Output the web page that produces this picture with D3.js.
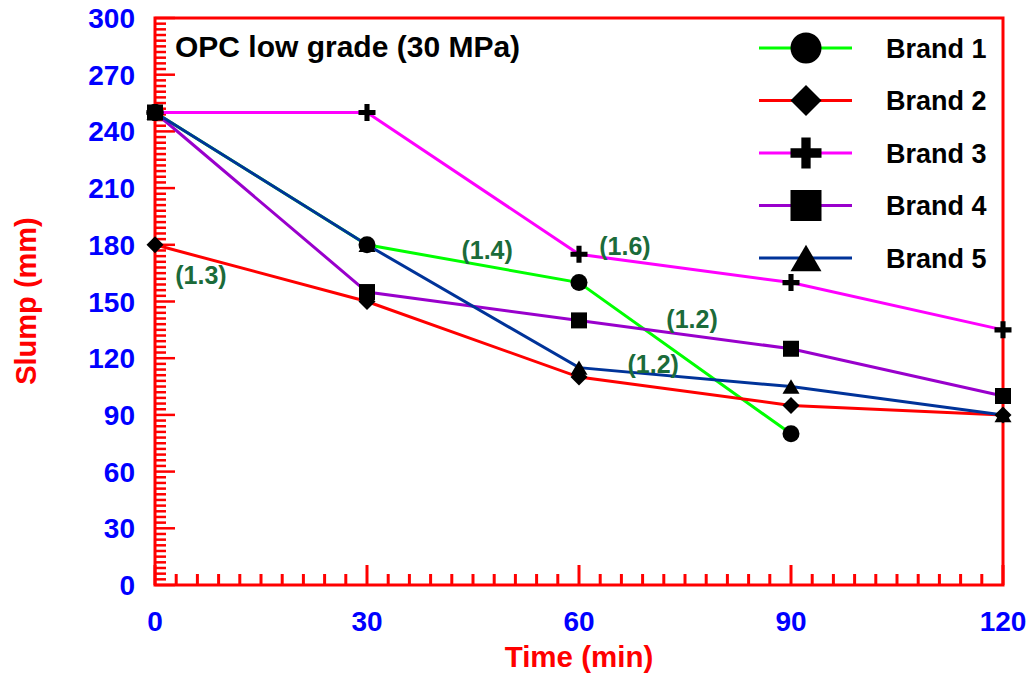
<!DOCTYPE html>
<html lang="en">
<head>
    <meta charset="UTF-8">
    <style>
        body { margin: 0; background: #fff; }
        text { font-family: "Liberation Sans", Arial, sans-serif; font-weight: bold; }
    </style>
    <script src="https://d3js.org/d3.v7.min.js"></script>
    <title>OPC low grade slump</title>
</head>
<body>
    <svg width="1032" height="673"></svg>

    <script>

        // data
        var times = [0, 30, 60, 90, 120];
        var brands = ["Brand 1", "Brand 2", "Brand 3", "Brand 4", "Brand 5"];
        var brand1 = [250, 180, 160, 80, null];
        var brand2 = [180, 150, 110, 95, 90];
        var brand3 = [250, 250, 175, 160, 135];
        var brand4 = [250, 155, 140, 125, 100];
        var brand5 = [250, 180, 115, 105, 90];
        var yTicks = [0, 30, 60, 90, 120, 150, 180, 210, 240, 270, 300];
        var xTicks = [0, 30, 60, 90, 120];

        // ratio annotations: [time, slump, label]
        var notes = [
            [6.5, 164, "(1.3)"],
            [47, 177, "(1.4)"],
            [66.5, 179.5, "(1.6)"],
            [76, 141, "(1.2)"],
            [70.5, 117, "(1.2)"]
        ];

        var series = [brand1, brand2, brand3, brand4, brand5];
        var colors = ["#00ff00", "#ff0000", "#ff00ff", "#9900cc", "#003399"];
        var shapes = ["circle", "diamond", "plus", "square", "triangle"];

        var svg = d3.select("svg");
        var pLeft = 155, pRight = 1003, pTop = 18, pBottom = 585;

        var x = d3.scaleLinear().domain([0, 120]).range([pLeft, pRight]);
        var y = d3.scaleLinear().domain([0, 300]).range([pBottom, pTop]);

        // marker path centred on 0,0; s = half size
        function marker(shape, s) {
            if (shape == "circle") {
                return "M" + s + ",0A" + s + "," + s + " 0 1,1 " + (-s) + ",0A" + s + "," + s + " 0 1,1 " + s + ",0Z";
            }
            if (shape == "diamond") {
                return "M0," + (-s) + "L" + s + ",0L0," + s + "L" + (-s) + ",0Z";
            }
            if (shape == "square") {
                return "M" + (-s) + "," + (-s) + "H" + s + "V" + s + "H" + (-s) + "Z";
            }
            if (shape == "triangle") {
                var h = s * 0.85;
                return "M0," + (-h) + "L" + s + "," + h + "L" + (-s) + "," + h + "Z";
            }
            // plus
            var t = s * 0.3;
            return "M" + (-t) + "," + (-s) + "H" + t + "V" + (-t) + "H" + s + "V" + t + "H" + t +
                   "V" + s + "H" + (-t) + "V" + t + "H" + (-s) + "V" + (-t) + "H" + (-t) + "Z";
        }

        // minor and major ticks, drawn inside the frame
        var minorX = d3.range(0, 121, 3);
        var minorY = d3.range(0, 301, 3);

        svg.append("g").selectAll("line")
            .data(minorX)
            .enter().append("line")
            .attr("x1", function(d) { return x(d); })
            .attr("x2", function(d) { return x(d); })
            .attr("y1", pBottom)
            .attr("y2", function(d) { return pBottom - (d % 30 == 0 ? 20 : 11); })
            .attr("stroke", "#ff0000")
            .attr("stroke-width", 3);

        svg.append("g").selectAll("line")
            .data(minorY)
            .enter().append("line")
            .attr("x1", pLeft)
            .attr("x2", function(d) { return pLeft + (d % 30 == 0 ? 20 : 11); })
            .attr("y1", function(d) { return y(d); })
            .attr("y2", function(d) { return y(d); })
            .attr("stroke", "#ff0000")
            .attr("stroke-width", 2.5);

        // frame
        svg.append("rect")
            .attr("x", pLeft).attr("y", pTop)
            .attr("width", pRight - pLeft).attr("height", pBottom - pTop)
            .attr("fill", "none")
            .attr("stroke", "#ff0000")
            .attr("stroke-width", 3);

        // tick labels
        svg.append("g").selectAll("text")
            .data(yTicks)
            .enter().append("text")
            .attr("x", 135)
            .attr("y", function(d) { return y(d); })
            .attr("dy", "0.36em")
            .attr("text-anchor", "end")
            .attr("fill", "#0000ff")
            .style("font-size", "28px")
            .text(function(d) { return d; });

        svg.append("g").selectAll("text")
            .data(xTicks)
            .enter().append("text")
            .attr("x", function(d) { return x(d); })
            .attr("y", 631)
            .attr("text-anchor", "middle")
            .attr("fill", "#0000ff")
            .style("font-size", "28px")
            .text(function(d) { return d; });

        // axis titles
        svg.append("text")
            .attr("x", 579).attr("y", 667)
            .attr("text-anchor", "middle")
            .attr("fill", "#ff0000")
            .style("font-size", "29.5px")
            .text("Time (min)");

        svg.append("text")
            .attr("transform", "translate(36,301) rotate(-90)")
            .attr("text-anchor", "middle")
            .attr("fill", "#ff0000")
            .style("font-size", "29px")
            .text("Slump (mm)");

        svg.append("text")
            .attr("x", 175).attr("y", 57)
            .attr("fill", "#000")
            .style("font-size", "30px")
            .text("OPC low grade (30 MPa)");

        // lines
        var line = d3.line()
            .defined(function(d) { return d != null; })
            .x(function(d, i) { return x(times[i]); })
            .y(function(d) { return y(d); });

        series.forEach(function(s, k) {
            svg.append("path")
                .attr("d", line(s))
                .attr("fill", "none")
                .attr("stroke", colors[k])
                .attr("stroke-width", 3);
        });

        // markers, square on top like the original
        [0, 1, 2, 4, 3].forEach(function(k) {
            svg.append("g").selectAll("path")
                .data(series[k].map(function(v, i) { return [times[i], v]; })
                              .filter(function(d) { return d[1] != null; }))
                .enter().append("path")
                .attr("transform", function(d) { return "translate(" + x(d[0]) + "," + y(d[1]) + ")"; })
                .attr("d", marker(shapes[k], shapes[k] == "square" ? 8 : 8.5))
                .attr("fill", "#000");
        });

        // ratio notes
        svg.append("g").selectAll("text")
            .data(notes)
            .enter().append("text")
            .attr("x", function(d) { return x(d[0]); })
            .attr("y", function(d) { return y(d[1]); })
            .attr("dy", "0.36em")
            .attr("text-anchor", "middle")
            .attr("fill", "#1b6b3a")
            .style("font-size", "25px")
            .text(function(d) { return d[2]; });

        // legend
        var legend = svg.append("g").selectAll("g")
            .data(brands)
            .enter().append("g")
            .attr("transform", function(d, i) { return "translate(0," + (48 + i * 52.5) + ")"; });

        legend.append("line")
            .attr("x1", 759).attr("x2", 852)
            .attr("stroke", function(d, i) { return colors[i]; })
            .attr("stroke-width", 3);

        legend.append("path")
            .attr("transform", "translate(806,0)")
            .attr("d", function(d, i) { return marker(shapes[i], 15.5); })
            .attr("fill", "#000");

        legend.append("text")
            .attr("x", 886)
            .attr("dy", "0.36em")
            .style("font-size", "27px")
            .attr("fill", "#000")
            .text(function(d) { return d; });

    </script>
</body>
</html>
